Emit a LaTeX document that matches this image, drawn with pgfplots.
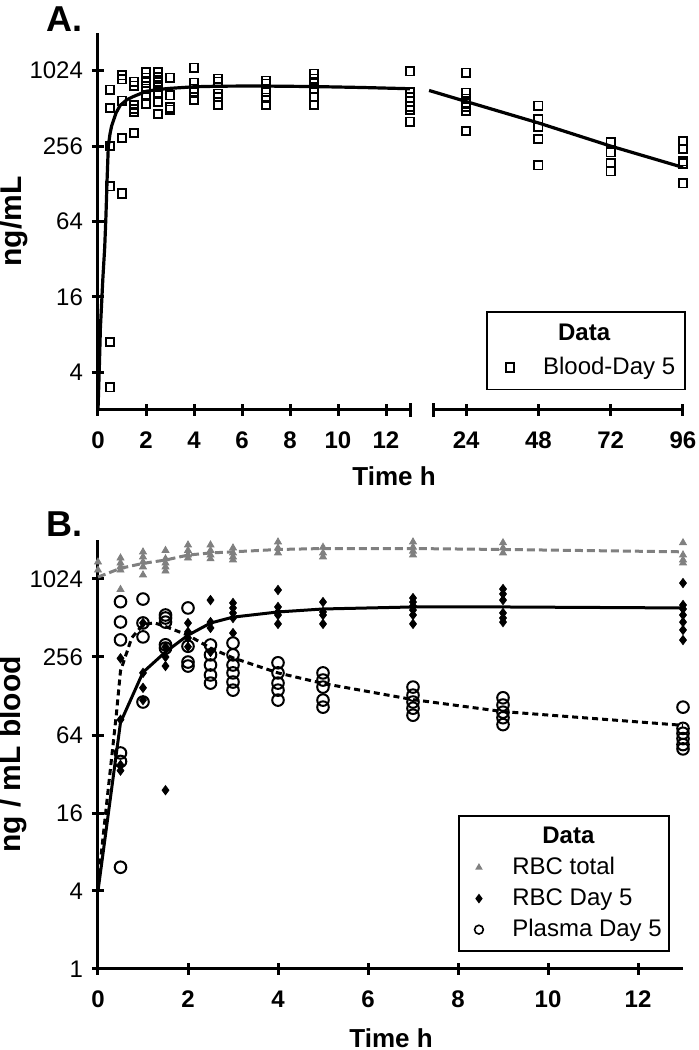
\documentclass[border=0pt]{standalone}
\usepackage{fontspec}
\setmainfont{Liberation Sans}
\usepackage{pgfplots}
\pgfplotsset{compat=1.18}
\definecolor{rbcgray}{RGB}{128,128,128}
\begin{document}
\begin{tikzpicture}
\useasboundingbox (0pt,0pt) rectangle (349.5pt,525pt);
\pgfplotsset{
  every axis/.append style={
    scale only axis,
    ymode=log, log basis y=2,
    tick style={line width=1.5pt, black},
    tick align=outside,
    major tick length=6pt,
    yminorticks=false, xminorticks=false,
    xticklabel style={font=\fontsize{12}{14}\selectfont\bfseries, yshift=-4.5pt},
    yticklabel style={font=\fontsize{12}{14}\selectfont, xshift=-1pt},
    clip=false,
    legend style={draw=black, line width=0.8pt, font=\fontsize{12}{14}\selectfont,
      legend cell align=left, /tikz/every odd column/.append style={column sep=12.5pt}},
  },
  noarrows/.style={
    axis line style={-, line width=1.5pt},
    x axis line style={-}, y axis line style={-},
    every outer x axis line/.append style={-},
    every outer y axis line/.append style={-},
    every inner x axis line/.append style={-},
    every inner y axis line/.append style={-},
  },
}
% ---------------- Panel A, left part ----------------
\begin{axis}[at={(49pt,320pt)}, anchor=south west, width=156pt, height=188.5pt,
  xmin=0, xmax=13, ymin=2, ymax=2048,
  axis lines=left, noarrows,
  xtick={0,2,4,6,8,10,12}, xticklabels={0,2,4,6,8,10,12},
  ytick={4,16,64,256,1024}, yticklabels={4,16,64,256,1024},
  ylabel={ng/mL}, xlabel={Time h},
  every axis y label/.style={at={(axis description cs:-0.269,0.5)}, rotate=90, anchor=center,
    font=\fontsize{15}{17}\selectfont\bfseries},
  every axis x label/.style={at={(axis description cs:0.949,-0.175)}, anchor=center,
    font=\fontsize{13}{15}\selectfont\bfseries},
]
\addplot[only marks, mark=square, mark size=2.1pt, mark options={line width=0.85pt, black}] coordinates {
(0.5,721)(0.5,517)(0.5,256)(0.5,122)(0.5,7.0)(0.5,3.03)
(1,939)(1,872)(1,591)(1,297)(1,107)
(1.5,836)(1.5,776)(1.5,546)(1.5,507)(1.5,480)(1.5,326)
(2,990)(2,900)(2,820)(2,734)(2,660)(2,556)
(2.5,1000)(2.5,912)(2.5,832)(2.5,758)(2.5,690)(2.5,575)(2.5,463)
(3,898)(3,650)(3,520)(3,500)
(4,1082)(4,820)(4,734)(4,682)(4,599)
(5,883)(5,836)(5,670)(5,633)(5,546)
(7,851)(7,805)(7,694)(7,622)(7,546)
(9,969)(9,883)(9,805)(9,734)(9,633)(9,546)
(13,1010)(13,690)(13,629)(13,578)(13,527)(13,500)(13,401)
};
\addplot[line width=1.6pt, black, no marks] coordinates {
(0,2)(0.05,4)(0.1,9)(0.2,22)(0.28,40)(0.33,70)(0.38,140)(0.43,256)(0.5,320)(0.57,372)
(0.75,470)(0.92,540)(1.2,600)(1.46,635)(2,700)(2.5,725)(3,740)(4,762)(5,770)(6,772)
(7,772)(9,765)(11,752)(13,735)
};
\draw[line width=1.5pt] (rel axis cs:1,0) ++(0pt,-3.5pt) -- ++(0pt,7pt);
\end{axis}
% ---------------- Panel A, right part ----------------
\begin{axis}[at={(216.5pt,320pt)}, anchor=south west, width=125pt, height=188.5pt,
  xmin=13, xmax=96, ymin=2, ymax=2048,
  axis x line=bottom, axis y line=none, noarrows,
  xtick={24,48,72,96}, xticklabels={24,48,72,96},
  ytick=\empty,
  legend style={at={(1.012,0.2626)}, anchor=north east, inner xsep=3pt, inner ysep=4pt, row sep=3pt},
]
\addlegendimage{empty legend}
\addlegendentry{\hspace*{7.5pt}\textbf{Data}}
\addplot[only marks, mark=square, mark size=2.1pt, mark options={line width=0.85pt, black}] coordinates {
(24,987)(24,682)(24,611)(24,560)(24,526)(24,489)(24,337)
(48,537)(48,422)(48,364)(48,291)(48,180)
(72,276)(72,229)(72,187)(72,161)
(96,281)(96,243)(96,194)(96,186)(96,129)
};
\addlegendentry{Blood-Day 5}
\addplot[line width=1.6pt, black, no marks, forget plot] coordinates {
(11.7,712)(24,581)(48,392)(72,256)(96,173)
};
\draw[line width=1.5pt] (rel axis cs:0,0) ++(0pt,-3.5pt) -- ++(0pt,7pt);
\end{axis}
% ---------------- Panel B ----------------
\begin{axis}[at={(49pt,40.5pt)}, anchor=south west, width=292.5pt, height=214.5pt,
  xmin=0, xmax=13, ymin=1, ymax=2048,
  axis lines=left, noarrows,
  xtick={0,2,4,6,8,10,12}, xticklabels={0,2,4,6,8,10,12},
  ytick={1,4,16,64,256,1024}, yticklabels={1,4,16,64,256,1024},
  ylabel={ng / mL blood}, xlabel={Time h},
  every axis y label/.style={at={(axis description cs:-0.1453,0.5)}, rotate=90, anchor=center,
    font=\fontsize{15}{17}\selectfont\bfseries},
  every axis x label/.style={at={(axis description cs:0.5009,-0.161)}, anchor=center,
    font=\fontsize{13}{15}\selectfont\bfseries},
  legend style={at={(0.977,0.359)}, anchor=north east, inner xsep=1.5pt, inner ysep=3.5pt, row sep=1.5pt},
]
\addlegendimage{empty legend}
\addlegendentry{\hspace*{15pt}\textbf{Data}}
\addlegendimage{only marks, mark=triangle*, mark size=1.4pt, rbcgray, mark options={fill=rbcgray, draw=rbcgray}}
\addlegendentry{RBC total}
\addlegendimage{only marks, mark=diamond*, mark size=1.8pt, black}
\addlegendentry{RBC Day 5}
\addlegendimage{only marks, mark=o, mark size=2.2pt, black, mark options={line width=0.8pt}}
\addlegendentry{Plasma Day 5}
% gray dashed fit
\addplot[forget plot, rbcgray, line width=1.5pt, dash pattern=on 4pt off 2pt, no marks] coordinates {
(0,1060)(0.5,1238)(1,1352)(1.5,1434)(2,1567)(2.5,1627)(3,1660)(4,1730)(5,1760)(7,1760)(9,1730)(13,1660)
};
% RBC total
\addplot[forget plot, only marks, mark=triangle*, mark size=2pt, mark options={fill=rbcgray, draw=rbcgray}] coordinates {
(0,1385)(0,1200)
(0.5,1487)(0.5,1361)(0.5,1270)(0.5,1200)(0.5,850)
(1,1656)(1,1516)(1,1385)(1,1270)(1,1100)
(1.5,1700)(1.5,1465)(1.5,1361)(1.5,1270)(1.5,1180)
(2,1875)(2,1700)(2,1569)(2,1487)
(2.5,1875)(2.5,1700)(2.5,1569)(2.5,1465)
(3,1777)(3,1626)(3,1516)(3,1436)
(4,1978)(4,1777)(4,1626)
(5,1800)(5,1626)(5,1516)
(7,1978)(7,1800)(7,1680)(7,1569)
(9,1950)(9,1777)(9,1626)
(13,1950)(13,1569)(13,1436)(13,1361)
};
% RBC Day 5
\addplot[forget plot, only marks, mark=diamond*, mark size=2.3pt, black] coordinates {
(0.5,250)(0.5,84)(0.5,37.6)(0.5,34)
(1,469)(1,193)(1,148)(1,119)
(1.5,307)(1.5,256)(1.5,218)(1.5,24)
(2,468)(2,400)(2,359)(2,307)
(2.5,704)(2.5,476)(2.5,429)(2.5,280)
(3,669)(3,612)(3,560)(3,512)(3,392)
(4,842)(4,623)(4,570)(4,540)(4,461)
(5,680)(5,570)(5,540)(5,461)
(7,730)(7,680)(7,634)(7,590)(7,540)(7,461)
(9,857)(9,785)(9,704)(9,560)(9,512)(9,476)
(13,953)(13,645)(13,601)(13,540)(13,476)(13,414)(13,346)
};
% Plasma Day 5
\addplot[forget plot, only marks, mark=o, mark size=2.9pt, black, mark options={line width=1pt}] coordinates {
(0.5,684)(0.5,477)(0.5,347)(0.5,46.5)(0.5,40)(0.5,6.1)
(1,717)(1,469)(1,366)(1,115)
(1.5,540)(1.5,512)(1.5,476)(1.5,318)(1.5,300)
(2,612)(2,310)(2,234)(2,218)
(2.5,317)(2.5,266)(2.5,222)(2.5,186)(2.5,161)
(3,328)(3,266)(3,222)(3,193)(3,164)(3,142)
(4,231)(4,193)(4,161)(4,142)(4,119)
(5,193)(5,170)(5,150)(5,119)(5,105)
(7,150)(7,130)(7,115)(7,103)(7,91)
(9,124)(9,109)(9,96)(9,87)(9,77)
(13,105)(13,72)(13,66)(13,60)(13,54)(13,50)
};
% RBC Day 5 fit (solid)
\addplot[forget plot, black, line width=1.5pt, no marks] coordinates {
(0,4)(0.5,80)(1,195)(1.5,280)(2,377)(2.5,468)(3,520)(4,570)(5,601)(7,623)(9,623)(13,612)
};
% Plasma fit (dashed)
\addplot[forget plot, black, line width=1.5pt, dash pattern=on 3pt off 2pt, no marks] coordinates {
(0,4.5)(0.2,20)(0.41,94)(0.5,200)(0.75,360)(1,455)(1.25,470)(1.5,440)(2,377)(2.5,300)
(3,252)(4,193)(5,160)(7,120)(9,97)(13,76)
};
\end{axis}
% panel letters
\node[anchor=base west, font=\fontsize{18}{20}\selectfont\bfseries, inner sep=0pt] at (23pt,509pt) {A.};
\node[anchor=base west, font=\fontsize{18}{20}\selectfont\bfseries, inner sep=0pt] at (23pt,256.5pt) {B.};
\end{tikzpicture}
\end{document}
